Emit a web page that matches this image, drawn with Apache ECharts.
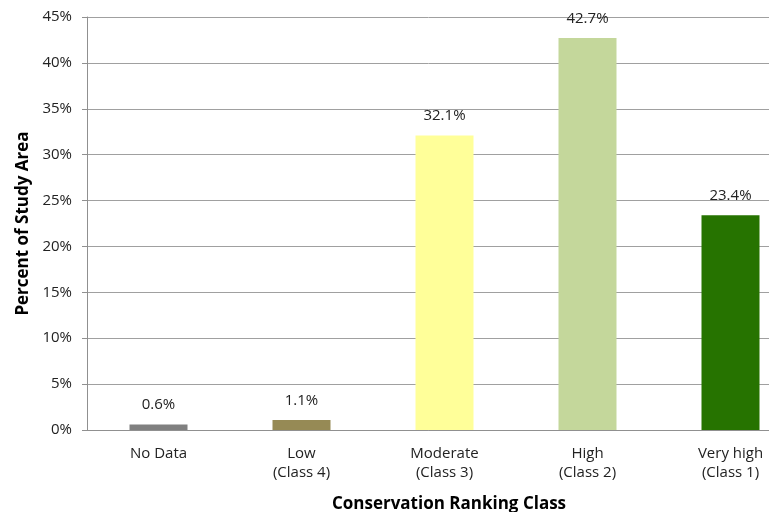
<!DOCTYPE html>
<html><head><meta charset="utf-8">
<script src="https://cdn.jsdelivr.net/npm/echarts@6/dist/echarts.min.js"></script>
<style>html,body{margin:0;padding:0;background:#fff}#c{width:769px;height:512px}</style>
</head><body><div id="c"></div>
<script>
const categories = ['No Data', 'Low\n(Class 4)', 'Moderate\n(Class 3)', 'High\n(Class 2)', 'Very high\n(Class 1)'];
const values = [0.6, 1.1, 32.1, 42.7, 23.4];
const barColors = ['#808080', '#968a55', '#ffff99', '#c4d79b', '#267300'];
const yTicks = [0, 5, 10, 15, 20, 25, 30, 35, 40, 45];

const chart = echarts.init(document.getElementById('c'), null, {renderer: 'canvas'});
const font = 'Open Sans';
chart.setOption({
  animation: false,
  grid: {left: 87, top: 17, width: 715, height: 413, containLabel: false, outerBoundsMode: 'none'},
  xAxis: {
    type: 'category', data: categories,
    name: 'Conservation Ranking Class', nameLocation: 'middle', nameGap: 66,
    nameTextStyle: {fontFamily: font, fontWeight: 'bold', fontSize: 17, color: '#000', padding: [0, 0, 0, 9]},
    axisLine: {lineStyle: {color: '#909090', width: 1}},
    axisTick: {show: false},
    axisLabel: {fontFamily: font, fontSize: 15, color: '#222', margin: 14, lineHeight: 19, interval: 0}
  },
  yAxis: {
    type: 'value', min: 0, max: 45, interval: 5,
    name: 'Percent of Study Area', nameLocation: 'middle', nameGap: 52,
    nameTextStyle: {fontFamily: font, fontWeight: 'bold', fontSize: 17, color: '#000'},
    axisLine: {show: true, lineStyle: {color: '#909090'}},
    axisTick: {show: true, length: 5, lineStyle: {color: '#909090'}},
    splitLine: {lineStyle: {color: '#a0a0a0'}},
    axisLabel: {fontFamily: font, fontSize: 15, color: '#222', margin: 15,
      formatter: v => yTicks.includes(v) ? v + '%' : ''}
  },
  series: [{
    type: 'bar', barWidth: 58,
    data: values.map((v, i) => ({value: v, itemStyle: {color: barColors[i]}})),
    label: {show: true, position: 'top', distance: 12, fontFamily: font, fontSize: 15, color: '#222',
      formatter: p => p.value.toFixed(1) + '%'}
  }]
});
</script></body></html>
